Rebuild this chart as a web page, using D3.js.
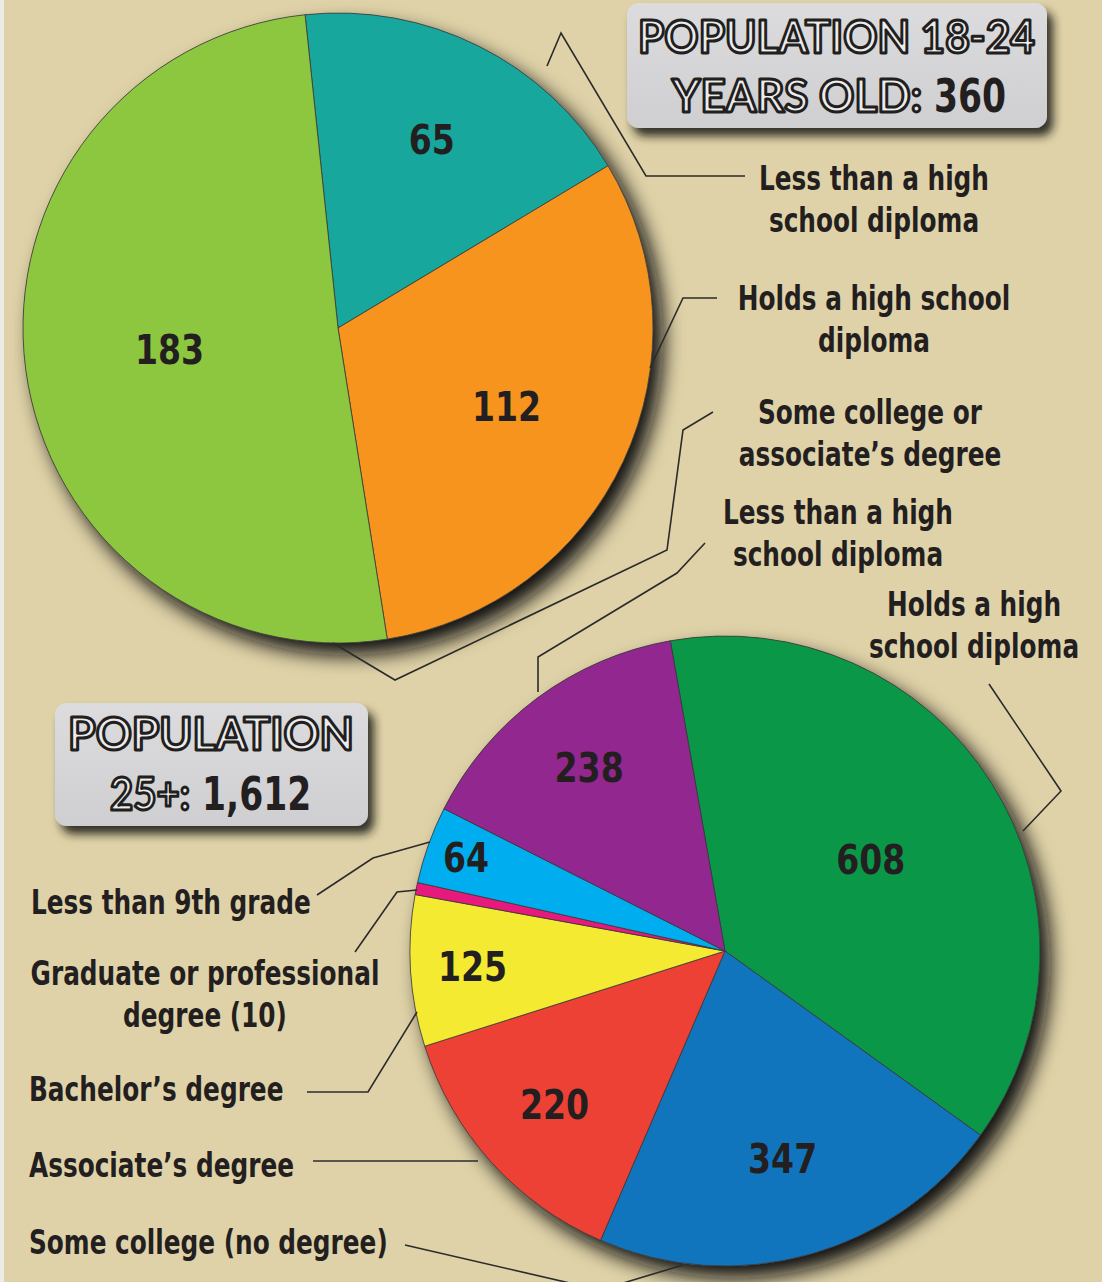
<!DOCTYPE html>
<meta charset="utf-8">
<head>
  <title>Population by educational attainment</title>
  <script src="https://d3js.org/d3.v7.min.js"></script>
  <style>
    html, body { margin: 0; padding: 0; background: #dfd2a8; }
    svg { display: block; }
    .lbl { font-family: "DejaVu Sans Condensed", "DejaVu Sans", sans-serif;
           font-weight: bold; font-size: 33px; fill: #231f20; }
    .val { font-family: "DejaVu Sans Condensed", "DejaVu Sans", sans-serif;
           font-weight: bold; font-size: 40px; fill: #231f20; text-anchor: middle; }
    .ttl { font-family: Lato, "DejaVu Sans", sans-serif; font-weight: bold; fill: #ececee;
           stroke: #231f20; stroke-width: 3px; stroke-linejoin: round; }
    .lead { fill: none; stroke: #2b2b2b; stroke-width: 1.6px; }
  </style>
</head>
<body>
<script>
  // --- data ---
  var youngCategories = ["Less than a high school diploma", "Holds a high school diploma", "Some college or associate's degree"];
  var youngValues = [65, 112, 183];
  var youngColors = ["#17a79d", "#f7941e", "#8dc63f"];

  var adultCategories = ["Holds a high school diploma", "Some college (no degree)", "Associate's degree",
                         "Bachelor's degree", "Graduate or professional degree", "Less than 9th grade",
                         "Less than a high school diploma"];
  var adultValues = [608, 347, 220, 125, 10, 64, 238];
  var adultColors = ["#0a9748", "#1175bd", "#ee4136", "#f4ea31", "#e8197c", "#00aeef", "#92278f"];

  // --- layout ---
  var W = 1102, H = 1282;
  var K = 0.835; // horizontal squeeze to mimic a condensed face
  var svg = d3.select("body").append("svg").attr("width", W).attr("height", H);

  var defs = svg.append("defs");
  var sh = defs.append("filter").attr("id", "shadow")
    .attr("x", "-20%").attr("y", "-20%").attr("width", "150%").attr("height", "150%");
  sh.append("feDropShadow").attr("dx", 10).attr("dy", 12).attr("stdDeviation", 10)
    .attr("flood-color", "#0d0c08").attr("flood-opacity", 1);
  var bsh = defs.append("filter").attr("id", "boxshadow")
    .attr("x", "-20%").attr("y", "-30%").attr("width", "140%").attr("height", "170%");
  bsh.append("feDropShadow").attr("dx", 6).attr("dy", 8).attr("stdDeviation", 5)
    .attr("flood-color", "#1b1a12").attr("flood-opacity", 0.9);
  var grad = defs.append("linearGradient").attr("id", "boxfill").attr("x1", 0).attr("y1", 0).attr("x2", 0).attr("y2", 1);
  grad.append("stop").attr("offset", "0%").attr("stop-color", "#dcdcde");
  grad.append("stop").attr("offset", "100%").attr("stop-color", "#cfcfd2");

  svg.append("rect").attr("width", W).attr("height", H).attr("fill", "#dfd2a8");
  svg.append("rect").attr("width", 4).attr("height", H).attr("fill", "#ecebe6");

  var deg = Math.PI / 180;
  var R = 315;

  function drawPie(cx, cy, values, colors, start, labelR) {
    var pie = d3.pie().sort(null).startAngle(start * deg).endAngle((start + 360) * deg);
    var arcs = pie(values);
    var arc = d3.arc().innerRadius(0).outerRadius(R);
    var g = svg.append("g").attr("transform", "translate(" + cx + "," + cy + ")");
    g.append("circle").attr("r", R).attr("fill", "#555").attr("filter", "url(#shadow)");
    g.selectAll("path.slice").data(arcs).enter().append("path")
      .attr("class", "slice")
      .attr("d", arc)
      .attr("fill", function(d, i) { return colors[i]; })
      .attr("stroke", "#3a3a3a").attr("stroke-width", 0.8);
    g.selectAll("text.val").data(arcs).enter().append("text")
      .attr("class", "val")
      .attr("transform", function(d, i) {
        var a = (d.startAngle + d.endAngle) / 2, r = labelR[i];
        return "translate(" + (r * Math.sin(a)) + "," + (-r * Math.cos(a) + 14) + ") scale(0.92,1)";
      })
      .text(function(d, i) { return labelR[i] ? d.value : ""; });
  }

  var youngLabelR = [210, 186, 170];
  var adultLabelR = [172, 216, 230, 253, 0, 275, 228];
  drawPie(338, 328, youngValues, youngColors, -6, youngLabelR);
  drawPie(725, 951, adultValues, adultColors, -10, adultLabelR);

  // --- leader lines ---
  var leaders = [
    [[547, 66], [561, 33], [646, 176], [745, 176]],
    [[650, 368], [683, 298], [717, 298]],
    [[333, 643], [395, 680], [667, 550], [683, 430], [713, 412]],
    [[538, 692], [538, 657], [677, 573], [705, 543]],
    [[989, 684], [1061, 791], [1023, 831]],
    [[317, 895], [373, 858], [430, 842]],
    [[355, 952], [397, 892], [417, 890]],
    [[307, 1092], [368, 1092], [417, 1012]],
    [[313, 1161], [478, 1161]],
    [[405, 1245], [600, 1290], [683, 1265]]
  ];
  var line = d3.line();
  svg.selectAll("path.lead").data(leaders).enter().append("path")
    .attr("class", "lead").attr("d", line);

  // --- category labels ---
  var labels = [
    { lines: ["Less than a high", "school diploma"], x: 874, y: 190, anchor: "middle" },
    { lines: ["Holds a high school", "diploma"], x: 874, y: 310, anchor: "middle" },
    { lines: ["Some college or", "associate\u2019s degree"], x: 870, y: 424, anchor: "middle" },
    { lines: ["Less than a high", "school diploma"], x: 838, y: 524, anchor: "middle" },
    { lines: ["Holds a high", "school diploma"], x: 974, y: 616, anchor: "middle" },
    { lines: ["Less than 9th grade"], x: 31, y: 914, anchor: "start" },
    { lines: ["Graduate or professional", "degree (10)"], x: 205, y: 985, anchor: "middle" },
    { lines: ["Bachelor\u2019s degree"], x: 29, y: 1101, anchor: "start" },
    { lines: ["Associate\u2019s degree"], x: 29, y: 1177, anchor: "start" },
    { lines: ["Some college (no degree)"], x: 29, y: 1254, anchor: "start" }
  ];
  labels.forEach(function(l) {
    var t = svg.append("g").attr("transform", "translate(" + l.x + "," + l.y + ") scale(" + K + ",1)")
      .append("text").attr("class", "lbl").attr("text-anchor", l.anchor);
    l.lines.forEach(function(s, i) {
      t.append("tspan").attr("x", 0).attr("y", i * 42).text(s);
    });
  });

  // --- title boxes ---
  function box(x, y, w, h) {
    svg.append("rect").attr("x", x).attr("y", y).attr("width", w).attr("height", h)
      .attr("rx", 12).attr("fill", "url(#boxfill)").attr("filter", "url(#boxshadow)");
  }
  function outlined(txt, x, y, size, len) {
    svg.append("text").attr("class", "ttl").attr("x", x).attr("y", y)
      .style("font-size", size + "px")
      .attr("textLength", len).attr("lengthAdjust", "spacingAndGlyphs").text(txt);
  }
  function solid(txt, x, y, size) {
    svg.append("g").attr("transform", "translate(" + x + "," + y + ") scale(" + K + ",1)")
      .append("text").attr("class", "lbl").style("font-size", size + "px").text(txt);
  }

  box(627, 3, 420, 125);
  outlined("POPULATION 18-24", 638, 53, 45, 397);
  outlined("YEARS OLD:", 672, 112, 45, 250);
  solid("360", 934, 112, 46);

  box(55, 703, 313, 123);
  outlined("POPULATION", 68, 750, 45, 286);
  outlined("25+:", 110, 810, 45, 80);
  solid("1,612", 202, 810, 46);
</script>
</body>
</html>
